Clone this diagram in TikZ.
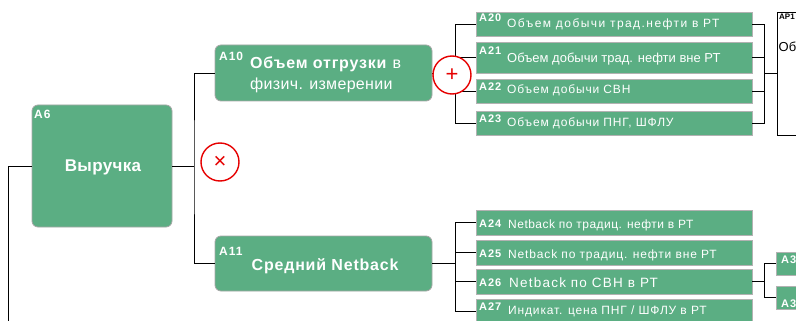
\documentclass[tikz,border=0pt]{standalone}
\usepackage{fontspec}
\setmainfont{Liberation Sans}
\newfontfamily\smf[LetterSpace=7]{Liberation Sans}
\newfontfamily\wdf[LetterSpace=12]{Liberation Sans}
\newfontfamily\nrf[LetterSpace=4]{Liberation Sans}
\newfontfamily\mdf[LetterSpace=9]{Liberation Sans}
\newfontfamily\lbf[LetterSpace=8]{Liberation Sans}
\newfontfamily\bgf[LetterSpace=5]{Liberation Sans}
\newfontfamily\hgf[LetterSpace=2]{Liberation Sans}
\definecolor{grn}{RGB}{91,174,131}
\definecolor{opred}{RGB}{230,0,0}
\begin{document}
\begin{tikzpicture}[x=1pt,y=-1pt,
  gbox/.style={draw=black!35, fill=grn, rounded corners=6pt, inner sep=0pt, line width=0.8pt},
  sbox/.style={draw=black!30, fill=grn, inner sep=0pt, line width=0.8pt},
  wbox/.style={draw=black, fill=white, inner sep=0pt, line width=0.8pt},
  lbl/.style={anchor=base west, inner sep=0pt, text=white, font=\lbf\bfseries\fontsize{11}{13}\selectfont},
  blbl/.style={anchor=base west, inner sep=0pt, text=white, font=\lbf\bfseries\fontsize{12}{14}\selectfont},
  txt/.style={anchor=base west, inner sep=0pt, text=white, font=\smf\fontsize{12}{14}\selectfont},
  mtxt/.style={anchor=base west, inner sep=0pt, text=white, font=\bgf\fontsize{16}{19}\selectfont},
  ln/.style={draw=black, line width=0.9pt},
  op/.style={circle, draw=opred, line width=1.4pt, fill=white, minimum size=38pt, inner sep=0pt, text=opred, font=\fontsize{22}{22}\selectfont}]
\useasboundingbox (0,0) rectangle (796,321);
\clip (0,0) rectangle (796,321);

% boxes
\node[gbox, minimum width=140pt, minimum height=122pt] (a6) at (102,166) {};
\node[gbox, minimum width=217pt, minimum height=56pt] (a10) at (323.5,73) {};
\node[gbox, minimum width=217pt, minimum height=55pt] (a11) at (323.5,263.5) {};
\node[sbox, minimum width=276pt, minimum height=24pt] (a20) at (614,24) {};
\node[sbox, minimum width=276pt, minimum height=31pt] (a21) at (614,57.5) {};
\node[sbox, minimum width=276pt, minimum height=24pt] (a22) at (614,91) {};
\node[sbox, minimum width=276pt, minimum height=24pt] (a23) at (614,123) {};
\node[sbox, minimum width=276pt, minimum height=25pt] (a24) at (614,222.5) {};
\node[sbox, minimum width=276pt, minimum height=25pt] (a25) at (614,252.5) {};
\node[sbox, minimum width=276pt, minimum height=25pt] (a26) at (614,281.5) {};
\node[sbox, minimum width=276pt, minimum height=25pt] (a27) at (614,311.5) {};
\node[wbox, minimum width=63pt, minimum height=123pt] (ap1) at (808.5,73.5) {};
\node[sbox, minimum width=64pt, minimum height=23pt] (a3a) at (808,263.5) {};
\node[sbox, minimum width=64pt, minimum height=23pt] (a3b) at (808,297.5) {};

% connectors
\coordinate (j0) at (8,330);
\coordinate (j1) at (194,166);
\draw[ln] (a6.west) -| (j0);
\draw[ln] (a6.east) -- (j1);
\draw[ln] (a10.west) -| (j1) |- (a11.west);

\draw[ln] (a10.east) -- ++(24,0);
\draw[ln] (a20.west) -- ++(-20,0) |- (a23.west);
\draw[ln] (a21.west) -- ++(-20,0);
\draw[ln] (a22.west) -- ++(-20,0);
\draw[ln] (a20.east) -- ++(12,0) |- (a23.east);
\draw[ln] (a21.east) -- ++(12,0);
\draw[ln] (a22.east) -- ++(12,0);
\coordinate (j3) at (764,73.5);
\draw[ln] (j3) -- (ap1.west);

\coordinate (j4) at (456,263.5);
\draw[ln, line width=1.3pt] (a11.east) -- (j4);
\draw[ln] (a24.west) -- ++(-20,0) |- (a27.west);
\draw[ln] (a25.west) -- ++(-20,0);
\draw[ln] (a26.west) -- ++(-20,0);
\draw[ln] (a26.east) -- ++(12,0) coordinate (j5);
\draw[ln] (a3a.west) -| (j5) |- (a3b.west);

% operators
\node[op] (mul) at (220,162) {×};
\node[op] (plus) at (452,75) {+};

% texts
\node[blbl] (t6) at (34,118) {A6};
\node[anchor=base, inner sep=0pt, text=white, font=\hgf\bfseries\fontsize{17}{20}\selectfont] (t6m) at (103,171) {Выручка};
\node[blbl] (t10) at (219,60.7) {A10};
\node[mtxt] (t10a) at (250,69) {\textbf{Объем отгрузки} в};
\node[mtxt, font=\hgf\fontsize{16}{19}\selectfont] (t10b) at (250,90) {физич. измерении};
\node[blbl] (t11) at (219,255) {A11};
\node[mtxt, font=\bgf\bfseries\fontsize{16}{19}\selectfont] (t11m) at (251.5,270.7) {Средний Netback};

\node[lbl] (l20) at (479,22) {A20};
\node[txt, font=\wdf\fontsize{12}{14}\selectfont] (x20) at (507,28) {Объем добычи трад.нефти в РТ};
\node[lbl] (l21) at (479,55) {A21};
\node[txt, font=\rmfamily\fontsize{13}{15}\selectfont] (x21) at (507,63) {Объем добычи трад. нефти вне РТ};
\node[lbl] (l22) at (479,91) {A22};
\node[txt] (x22) at (507,94) {Объем добычи СВН};
\node[lbl] (l23) at (479,122) {A23};
\node[txt] (x23) at (507,127) {Объем добычи ПНГ, ШФЛУ};
\node[lbl] (l24) at (479,227.5) {A24};
\node[txt, font=\nrf\fontsize{12}{14}\selectfont] (x24) at (508,228) {Netback по традиц. нефти в РТ};
\node[lbl] (l25) at (479,257) {A25};
\node[txt] (x25) at (508,258) {Netback по традиц. нефти вне РТ};
\node[lbl] (l26) at (479,286) {A26};
\node[txt, font=\mdf\fontsize{13.5}{15}\selectfont] (x26) at (509,287) {Netback по СВН в РТ};
\node[lbl] (l27) at (479,310) {A27};
\node[txt] (x27) at (508,314) {Индикат. цена ПНГ / ШФЛУ в РТ};

\node[anchor=base west, inner sep=0pt, font=\bfseries\fontsize{8}{9}\selectfont] (lap) at (779,20) {AP1};
\node[anchor=base west, inner sep=0pt, font=\fontsize{13}{15}\selectfont] (xap) at (778.5,52) {Об};
\node[lbl] (l3a) at (781,263) {A3};
\node[lbl] (l3b) at (781,307) {A3};
\end{tikzpicture}
\end{document}
